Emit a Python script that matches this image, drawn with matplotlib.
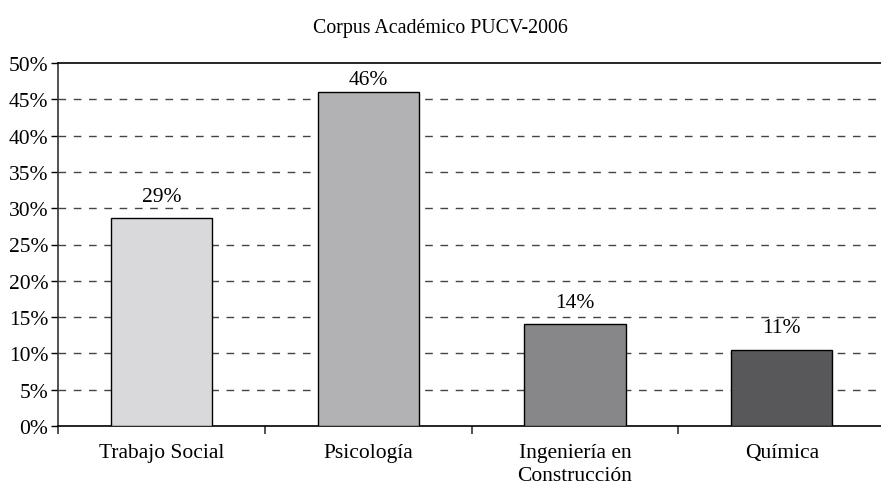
import numpy as np
import matplotlib
matplotlib.use("Agg")
import matplotlib.pyplot as plt
from matplotlib.ticker import FixedLocator, PercentFormatter

plt.rcParams['font.family'] = ['Liberation Serif', 'DejaVu Serif']

# datos
categorias = ['Trabajo Social', 'Psicología', 'Ingeniería en\nConstrucción', 'Química']
valores = [28.6, 46.0, 14.0, 10.5]
etiquetas = ['29%', '46%', '14%', '11%']
colores = ['#d9d9db', '#b2b2b4', '#87878a', '#58585a']

fs = 15.5
ymax = 50

fig = plt.figure(figsize=(8.81, 4.85), dpi=100)
ax = fig.add_axes([58 / 881, 58 / 485, 1 - 58 / 881, 363 / 485])

x = np.arange(len(categorias))
barras = ax.bar(x, valores, width=0.49, color=colores, edgecolor='black', linewidth=1, zorder=3)

for b, txt in zip(barras, etiquetas):
    # cerca del borde superior la etiqueta se pega a la barra (como en Excel)
    off = 2.5 if b.get_height() > ymax - 5 else 9
    ax.annotate(txt, (b.get_x() + b.get_width() / 2, b.get_height()),
                xytext=(0, off), textcoords='offset points',
                ha='center', va='bottom', fontsize=fs)

ax.set_ylim(0, ymax)
ax.set_xlim(-0.5, 3.48)
ax.set_yticks(np.arange(0, ymax + 1, 5))
ax.yaxis.set_major_formatter(PercentFormatter(decimals=0))
ax.set_xticks(x)
ax.set_xticklabels(categorias, linespacing=1.3)
ax.xaxis.set_minor_locator(FixedLocator([-0.5, 0.5, 1.5, 2.5]))
ax.tick_params(axis='x', which='major', length=0, pad=12, labelsize=fs)
ax.tick_params(axis='x', which='minor', length=6, width=1.2, color='#333333')
ax.tick_params(axis='y', length=5, width=1, labelsize=fs, pad=2)

for y in np.arange(5, ymax, 5):
    ax.axhline(y, color='#444444', linewidth=1, dashes=(5.5, 5.5), zorder=1)

ax.spines['right'].set_visible(False)
ax.spines['top'].set_linewidth(1.2)
ax.spines['left'].set_linewidth(1.2)
ax.spines['left'].set_color('#333333')
ax.spines['bottom'].set_linewidth(1.2)

fig.text(0.5, 1 - 28 / 485, 'Corpus Académico PUCV-2006', ha='center', va='center', fontsize=14.3)

fig.savefig('out.png', dpi=100)
